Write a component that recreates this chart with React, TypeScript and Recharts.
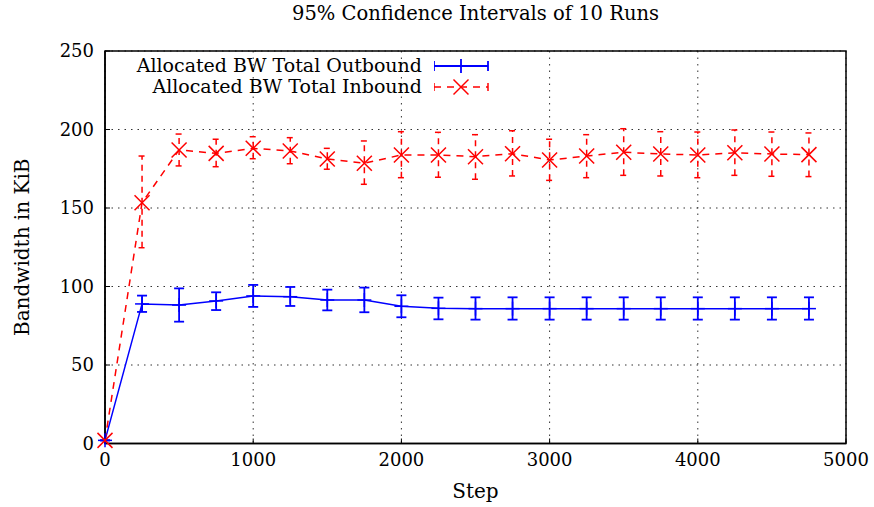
import React from 'react'
import {
  ComposedChart, Line, XAxis, YAxis, CartesianGrid, ErrorBar, ReferenceArea,
} from 'recharts'

// steps every 250, mean and 95% CI bounds
const steps = [0, 250, 500, 750, 1000, 1250, 1500, 1750, 2000, 2250, 2500, 2750, 3000, 3250, 3500, 3750, 4000, 4250, 4500, 4750]

const outMean = [2, 88.9, 88.2, 90.8, 94.0, 93.5, 91.4, 91.4, 87.4, 86.1, 85.9, 85.9, 85.9, 85.9, 85.9, 85.9, 85.9, 85.9, 85.9, 85.9]
const outLow = [2, 83.8, 77.6, 85.0, 87.0, 87.6, 84.8, 83.6, 80.4, 79.1, 78.9, 78.9, 78.9, 78.9, 78.9, 78.9, 78.9, 78.9, 78.9, 78.9]
const outHigh = [2, 94.2, 98.8, 96.3, 101.0, 99.7, 98.0, 99.3, 94.4, 92.9, 93.1, 93.1, 93.1, 93.1, 93.1, 93.1, 93.1, 93.1, 93.1, 93.1]

const inMean = [2, 153.4, 187.0, 184.8, 188.0, 186.3, 181.2, 178.5, 183.8, 183.8, 182.7, 184.6, 180.6, 183.1, 185.5, 184.4, 183.8, 185.2, 184.4, 184.0]
const inLow = [2, 124.7, 176.8, 176.3, 181.4, 178.2, 174.7, 165.1, 169.3, 169.6, 168.3, 170.4, 167.6, 169.3, 170.8, 170.4, 169.3, 170.8, 170.2, 170.0]
const inHigh = [2, 183.1, 197.1, 193.8, 195.4, 194.8, 188.0, 192.7, 198.6, 198.2, 196.7, 199.2, 193.8, 196.7, 200.5, 198.6, 198.4, 199.7, 198.4, 197.8]

const xTicks = [0, 1000, 2000, 3000, 4000, 5000]
const yTicks = [0, 50, 100, 150, 200, 250]

const BLUE = '#0000ff'
const RED = '#ff0000'
const FONT = '"DejaVu Serif", serif'

const data = steps.map((s, i) => ({
  step: s,
  outbound: outMean[i],
  outErr: [outMean[i] - outLow[i], outHigh[i] - outMean[i]],
  inbound: inMean[i],
  inErr: [inMean[i] - inLow[i], inHigh[i] - inMean[i]],
}))

const PlusDot = (p: any) => {
  const { cx, cy, index } = p
  if (cx == null || cy == null) return <g key={index} />
  return (
    <g key={index} stroke={BLUE} strokeWidth={1.5}>
      <line x1={cx - 7} y1={cy} x2={cx + 7} y2={cy} />
      <line x1={cx} y1={cy - 7} x2={cx} y2={cy + 7} />
    </g>
  )
}

const CrossDot = (p: any) => {
  const { cx, cy, index } = p
  if (cx == null || cy == null) return <g key={index} />
  const r = 7.5
  return (
    <g key={index} stroke={RED} strokeWidth={1.5}>
      <line x1={cx - r} y1={cy - r} x2={cx + r} y2={cy + r} />
      <line x1={cx - r} y1={cy + r} x2={cx + r} y2={cy - r} />
    </g>
  )
}

const LegendRow = ({ label, kind }: { label: string; kind: 'out' | 'in' }) => (
  <div style={{ display: 'flex', alignItems: 'center', height: 21 }}>
    <span style={{ width: 322, textAlign: 'right', whiteSpace: 'nowrap' }}>{label}</span>
    <svg width={70} height={20} style={{ marginLeft: 12 }}>
      {kind === 'out' ? (
        <g stroke={BLUE} strokeWidth={1.8}>
          <line x1={0} y1={10} x2={54} y2={10} />
          <line x1={0} y1={5} x2={0} y2={15} />
          <line x1={54} y1={5} x2={54} y2={15} />
          <line x1={27} y1={3} x2={27} y2={17} />
        </g>
      ) : (
        <g stroke={RED} strokeWidth={1.5}>
          <line x1={0} y1={10} x2={54} y2={10} strokeDasharray="7 6" />
          <line x1={0} y1={6} x2={0} y2={14} />
          <line x1={54} y1={6} x2={54} y2={14} />
          <line x1={19.5} y1={2.5} x2={34.5} y2={17.5} />
          <line x1={19.5} y1={17.5} x2={34.5} y2={2.5} />
        </g>
      )}
    </svg>
  </div>
)

export default function App() {
  return (
    <div style={{ position: 'absolute', left: 0, top: 0, width: 874, height: 507, background: '#fff', fontFamily: FONT }}>
      <div style={{ position: 'absolute', left: 105, top: 3, width: 741, textAlign: 'center', fontSize: 19.5, lineHeight: '22px' }}>
        95% Confidence Intervals of 10 Runs
      </div>
      <ComposedChart width={874} height={507} data={data} margin={{ top: 51, right: 28, bottom: 0, left: 0 }}>
        <CartesianGrid stroke="#333" strokeDasharray="1.5 5" />
        <XAxis
          dataKey="step" type="number" domain={[0, 5000]} ticks={xTicks} height={63.5}
          tickSize={-5} tickMargin={15} stroke="#000" tick={{ fill: '#000', fontSize: 18 }}
          axisLine={{ stroke: '#000', strokeWidth: 1.5 }} tickLine={{ stroke: '#000' }}
          label={{
            content: (p: any) => {
              const vb = p.viewBox
              return (
                <text x={vb.x + vb.width / 2} y={vb.y + 47} textAnchor="middle" dominantBaseline="central" fontSize={20} fill="#000">
                  Step
                </text>
              )
            },
          }}
        />
        <YAxis
          type="number" domain={[0, 250]} ticks={yTicks} width={105}
          tickSize={-5} tickMargin={16} stroke="#000" tick={{ fill: '#000', fontSize: 18 }}
          axisLine={{ stroke: '#000', strokeWidth: 1.5 }} tickLine={{ stroke: '#000' }}
          label={{
            content: (p: any) => {
              const vb = p.viewBox
              const cx = vb.x + 22
              const cy = vb.y + vb.height / 2
              return (
                <text x={cx} y={cy} transform={`rotate(-90, ${cx}, ${cy})`} textAnchor="middle" dominantBaseline="central" fontSize={20} fill="#000">
                  Bandwidth in KiB
                </text>
              )
            },
          }}
        />
        <ReferenceArea x1={0} x2={5000} y1={0} y2={250} fill="none" stroke="#000" strokeWidth={1.5} fillOpacity={0} />
        <Line
          type="linear" dataKey="outbound" stroke={BLUE} strokeWidth={1.5}
          dot={PlusDot} activeDot={false} isAnimationActive={false}
        >
          <ErrorBar dataKey="outErr" width={5} stroke={BLUE} strokeWidth={1.8} direction="y" />
        </Line>
        <Line
          type="linear" dataKey="inbound" stroke={RED} strokeWidth={1.5} strokeDasharray="7 6"
          dot={CrossDot} activeDot={false} isAnimationActive={false}
        >
          <ErrorBar dataKey="inErr" width={3.5} stroke={RED} strokeWidth={1.5} strokeDasharray="6 5" direction="y" />
        </Line>
      </ComposedChart>
      <div style={{ position: 'absolute', left: 100, top: 55, fontSize: 19, lineHeight: '21px' }}>
        <LegendRow label="Allocated BW Total Outbound" kind="out" />
        <LegendRow label="Allocated BW Total Inbound" kind="in" />
      </div>
    </div>
  )
}
